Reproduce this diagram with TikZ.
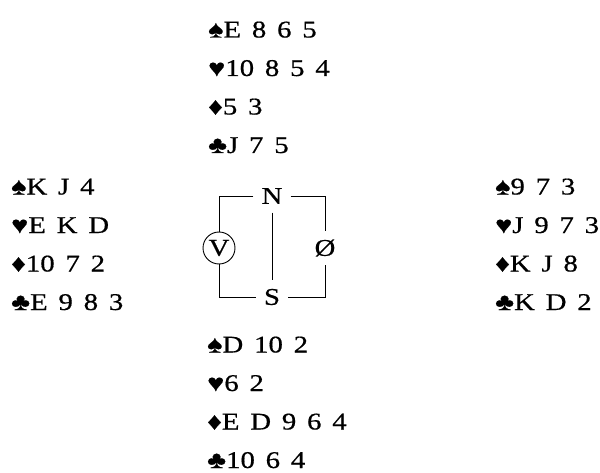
\documentclass[tikz,border=0pt]{standalone}
\usepackage{fontspec}
\setmainfont{Liberation Serif}[WordSpace=1.5,FakeStretch=1.2,FakeBold=0.6]

\begin{document}
\begin{tikzpicture}[
  x=1pt, y=-1pt,
  hand/.style={
    anchor=base west,
    align=left,
    inner sep=0pt,
    font=\fontsize{24}{38.5}\selectfont
  },
  seat/.style={
    inner xsep=8pt,
    inner ysep=8.5pt,
    font=\fontsize{24}{28}\selectfont
  },
  line/.style={line width=0.9pt}
]
\useasboundingbox (0,0) rectangle (600,473);

% Hands (placed by the baseline of their last line)
\node[hand] (north) at (208,153) {♠E 8 6 5\\♥10 8 5 4\\♦5 3\\♣J 7 5};
\node[hand] (west) at (11,310) {♠K J 4\\♥E K D\\♦10 7 2\\♣E 9 8 3};
\node[hand] (east) at (495,310) {♠9 7 3\\♥J 9 7 3\\♦K J 8\\♣K D 2};
\node[hand] (south) at (207,468) {♠D 10 2\\♥6 2\\♦E D 9 6 4\\♣10 6 4};

% Compass
\node[seat] (N) at (272,196) {N};
\node[seat] (S) at (272,297) {S};
\node[seat,draw,circle,line width=0.9pt,minimum size=32pt,inner sep=0pt] (V) at (219,248) {V};
\node[seat] (O) at (325,248) {Ø};

\draw[line] (N.west) -| (V.north);
\draw[line] (V.south) |- (S.west);
\draw[line] (N.east) -| (O.north);
\draw[line] (O.south) |- (S.east);
\draw[line] (N.south) -- (S.north);

\end{tikzpicture}
\end{document}
